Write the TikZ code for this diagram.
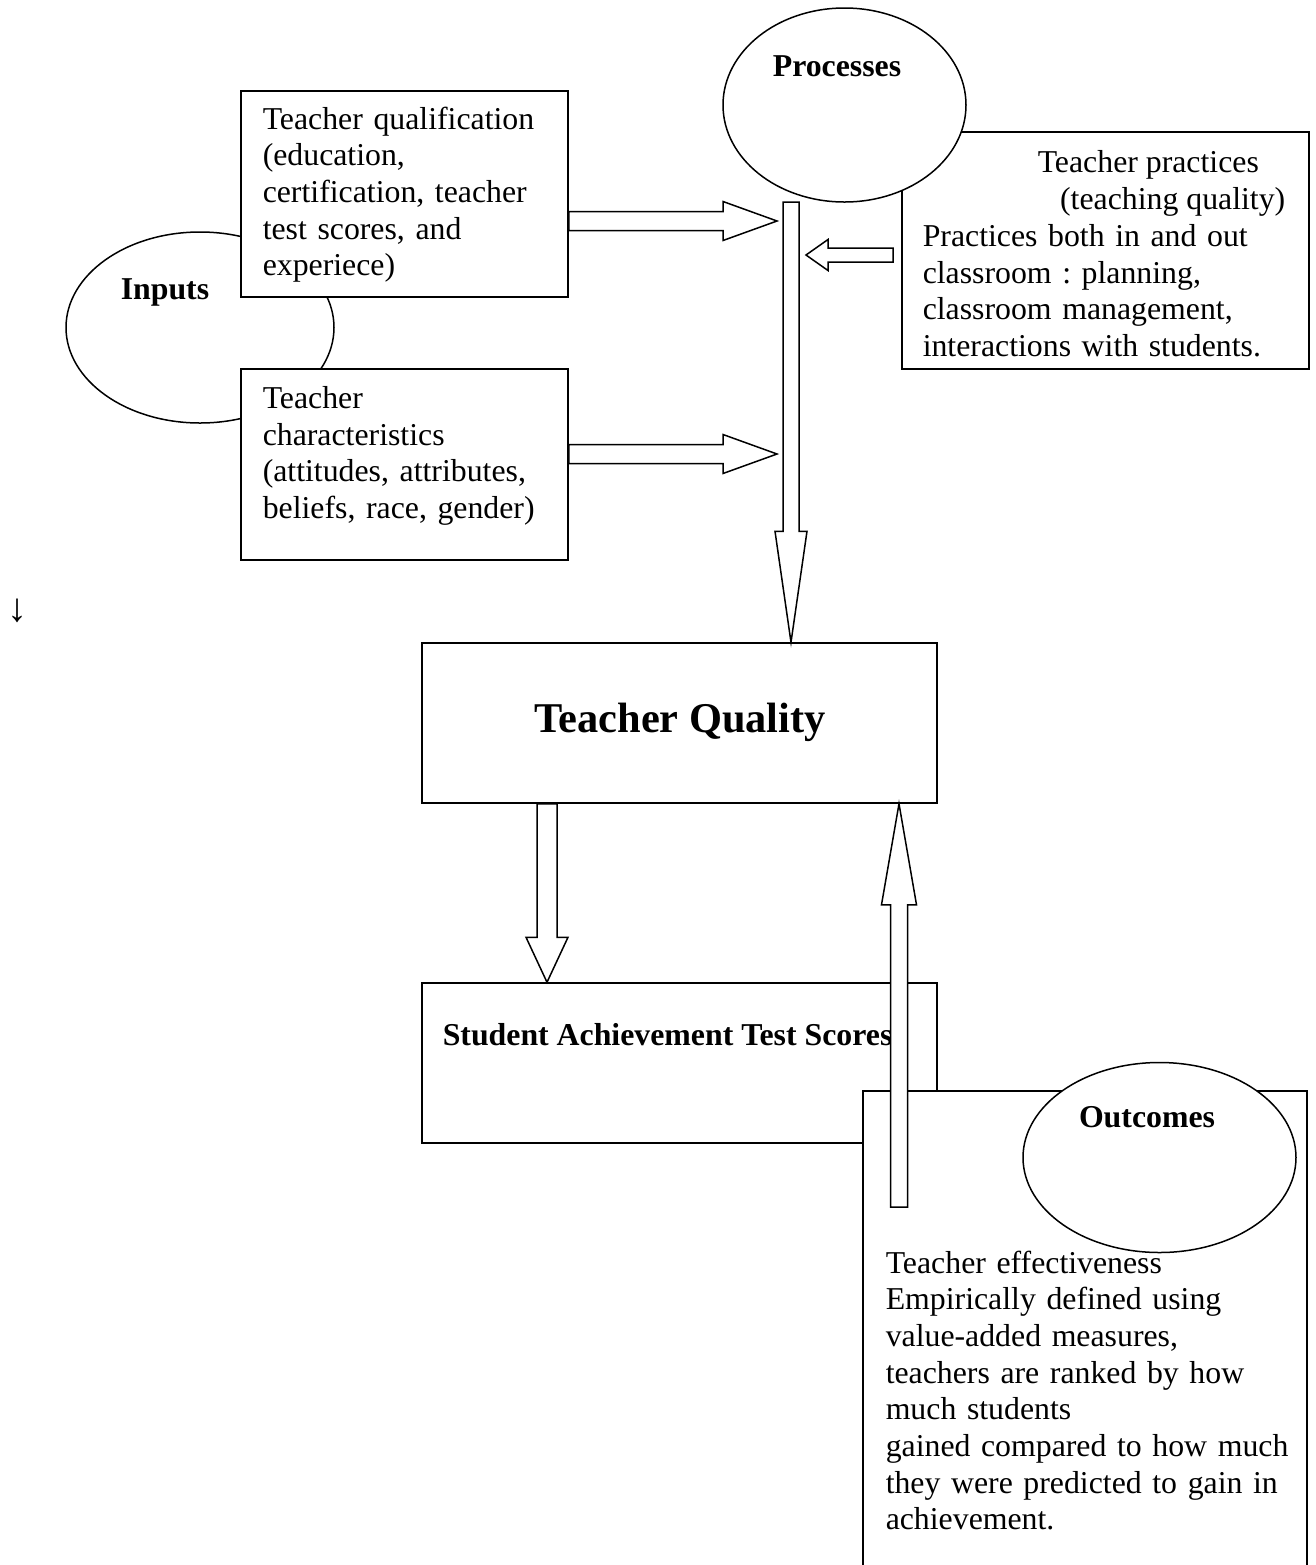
\documentclass[tikz,border=0pt]{standalone}
\usepackage{fontspec}
\setmainfont{Liberation Serif}
\usetikzlibrary{shapes.geometric,calc}
\frenchspacing
% block arrow: #1 start, #2 tip, #3 shaft half width, #4 head half width, #5 head length
\newcommand{\blockarr}[5]{%
  \coordinate (ba-h) at ($(#2)!#5!(#1)$);
  \draw[barrow] ($(#1)!#3!90:(#2)$) -- ($(ba-h)!#3!90:(#2)$) -- ($(ba-h)!#4!90:(#2)$)
    -- (#2) -- ($(ba-h)!#4!-90:(#2)$) -- ($(ba-h)!#3!-90:(#2)$) -- ($(#1)!#3!-90:(#2)$) -- cycle;}
\begin{document}
\begin{tikzpicture}[x=0.5pt,y=-0.5pt,line width=0.75pt,
  box/.style={draw,fill=white,rectangle,inner sep=0pt},
  oval/.style={draw,fill=white,ellipse,inner sep=0pt},
  barrow/.style={draw,fill=white,line join=miter},
  txt/.style={inner sep=0pt,font=\fontsize{15.9pt}{18.35pt}\selectfont\frenchspacing,text width=215pt,align=left,anchor=base west},
  rtxt/.style={inner sep=0pt,font=\fontsize{15.9pt}{18.35pt}\selectfont,anchor=base},
  lbl/.style={inner sep=0pt,font=\fontsize{15.9pt}{18.35pt}\selectfont\bfseries,anchor=base}]
\useasboundingbox[fill=white] (0,0) rectangle (1316,1565);

% Inputs
\node[oval,minimum width=134pt,minimum height=95.5pt] (inp) at (200,327.5) {};
\node[lbl] (inpl) at (165,299) {Inputs};
\node[box,minimum width=163.5pt,minimum height=103pt] (qual) at (404.5,194) {};
\node[txt] (qualt) at (262,129) {Teacher qualification\\(education,\\certification, teacher\\test scores, and\\experiece)};
\node[box,minimum width=163.5pt,minimum height=95.5pt] (char) at (404.5,464.5) {};
\node[txt] (chart) at (262,408.5) {Teacher\\characteristics\\(attitudes, attributes,\\beliefs, race, gender)};

% Processes
\node[box,minimum width=203.5pt,minimum height=118.5pt] (prac) at (1105.5,250.5) {};
\node[oval,minimum width=121.5pt,minimum height=97pt] (proc) at (844.5,105) {};
\node[lbl] (procl) at (837,76) {Processes};
\node[rtxt,anchor=base west] (pract1) at (1037,172) {Teacher practices};
\node[rtxt,anchor=base east] (pract2) at (1286,209) {(teaching quality)};
\node[txt] (pract3) at (922,246.5) {Practices both in and out\\classroom : planning,\\classroom management,\\interactions with students.};

\node[inner sep=0pt,font=\fontsize{20pt}{22pt}\selectfont,anchor=center] (darr) at (18,611) {↓};

% Teacher quality and student achievement
\node[box,minimum width=257.5pt,minimum height=80pt] (tq) at (679.5,723) {};
\node[inner sep=0pt,font=\fontsize{21.2pt}{24pt}\selectfont\bfseries,anchor=base] (tqt) at (680,732) {Teacher Quality};
\node[box,minimum width=257.5pt,minimum height=80pt] (sat) at (679.5,1063) {};
\node[lbl,anchor=base west] (satt) at (442,1045.5) {Student Achievement Test Scores};

% Outcomes
\node[box,minimum width=222pt,minimum height=242pt] (outc) at (1085,1333) {};
\node[oval,minimum width=136.5pt,minimum height=95pt] (outo) at (1159.5,1157.5) {};
\node[lbl] (outl) at (1147,1127) {Outcomes};
\node[txt] (outt) at (885,1273) {Teacher effectiveness\\Empirically defined using\\value-added measures,\\teachers are ranked by how\\much students\\gained compared to how much\\they were predicted to gain in\\achievement.};

% connectors (block arrows)
\coordinate (a1s) at (qual.east |- 0,221);
\coordinate (a1e) at (777,221);
\blockarr{a1s}{a1e}{4.75pt}{9.75pt}{27pt}
\coordinate (a2s) at (char.east |- 0,454);
\coordinate (a2e) at (777,454);
\blockarr{a2s}{a2e}{4.75pt}{9.75pt}{27pt}
\coordinate (a3s) at (791,202);
\coordinate (a3e) at (tq.north -| 791,0);
\blockarr{a3s}{a3e}{4pt}{8pt}{55.5pt}
\coordinate (a4s) at (893,255);
\coordinate (a4e) at (806,255);
\blockarr{a4s}{a4e}{3.5pt}{7.75pt}{11pt}
\coordinate (a5s) at (tq.south -| 547,0);
\coordinate (a5e) at (sat.north -| 547,0);
\blockarr{a5s}{a5e}{5pt}{10.5pt}{22.5pt}
\coordinate (a6s) at (899,1207);
\coordinate (a6e) at (tq.south -| 899,0);
\blockarr{a6s}{a6e}{4.25pt}{8.75pt}{50.5pt}
\end{tikzpicture}
\end{document}
